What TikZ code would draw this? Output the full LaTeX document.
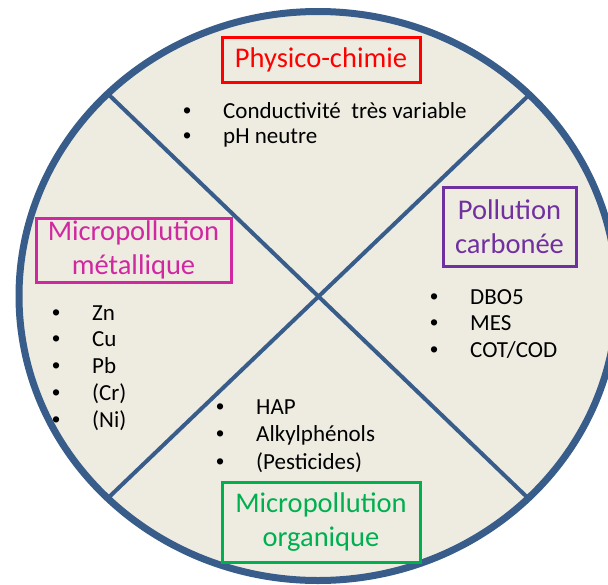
\documentclass[tikz,border=0pt]{standalone}
\usepackage{fontspec}
\setmainfont{Carlito}
\newfontfamily\bulletfont{Liberation Sans}
\usetikzlibrary{positioning}
\definecolor{rim}{RGB}{56,93,138}
\definecolor{sand}{RGB}{238,236,225}
\definecolor{physred}{RGB}{255,0,0}
\definecolor{metalpink}{RGB}{208,40,160}
\definecolor{carbpurple}{RGB}{112,48,160}
\definecolor{orggreen}{RGB}{0,176,80}
\newcommand{\puce}{\leavevmode\llap{\makebox[72pt]{\bulletfont\textbullet}}}

\begin{document}
\begin{tikzpicture}[x=1pt, y=-1pt,
  theme/.style = {draw=#1, text=#1, fill=sand, line width=3pt, inner sep=0pt, align=center, font=\fontsize{28.5}{34}\selectfont},
  item/.style = {anchor=base west, inner sep=0pt, font=\fontsize{23}{27}\selectfont}]
\useasboundingbox (0,0) rectangle (608,584);
\clip (0,0) rectangle (608,584);
\coordinate (c) at (318,296);
\fill[sand] (c) ellipse [x radius=299pt, y radius=284.5pt];
\coordinate (nw) at (107,93);
\coordinate (ne) at (529,95);
\coordinate (sw) at (107,499);
\coordinate (se) at (529,499);
\draw[rim, line width=4pt] (nw) -- (se);
\draw[rim, line width=4pt] (ne) -- (sw);
\draw[rim, line width=7pt] (c) ellipse [x radius=299pt, y radius=284.5pt];

\node[theme=physred, minimum width=198pt, minimum height=45pt] (phys) at (321,59.5) {Physico-chimie};
\node[theme=metalpink, minimum width=195pt, minimum height=64pt] (metal) at (133.5,250) {Micropollution\\m\'etallique};
\node[theme=carbpurple, minimum width=133pt, minimum height=79pt] (carb) at (509.5,226.5) {Pollution\\carbon\'ee};
\node[theme=orggreen, minimum width=198pt, minimum height=80pt] (org) at (321,522) {Micropollution\\organique};

\node[item] (phys1) at (223,118) {\puce Conductivit\'e~~tr\`es variable};
\node[item] (phys2) at (223,143) {\puce pH neutre};
\foreach \txt [count=\i] in {Zn, Cu, Pb, (Cr), (Ni)}
  \node[item] (metal\i) at (92,{320+26.75*(\i-1)}) {\puce \txt};
\foreach \txt [count=\i] in {DBO5, MES, COT/COD}
  \node[item] (carb\i) at (470,{304+26.5*(\i-1)}) {\puce \txt};
\foreach \txt [count=\i] in {HAP, Alkylph\'enols, (Pesticides)}
  \node[item] (org\i) at (256,{414+27.5*(\i-1)}) {\puce \txt};
\end{tikzpicture}
\end{document}
